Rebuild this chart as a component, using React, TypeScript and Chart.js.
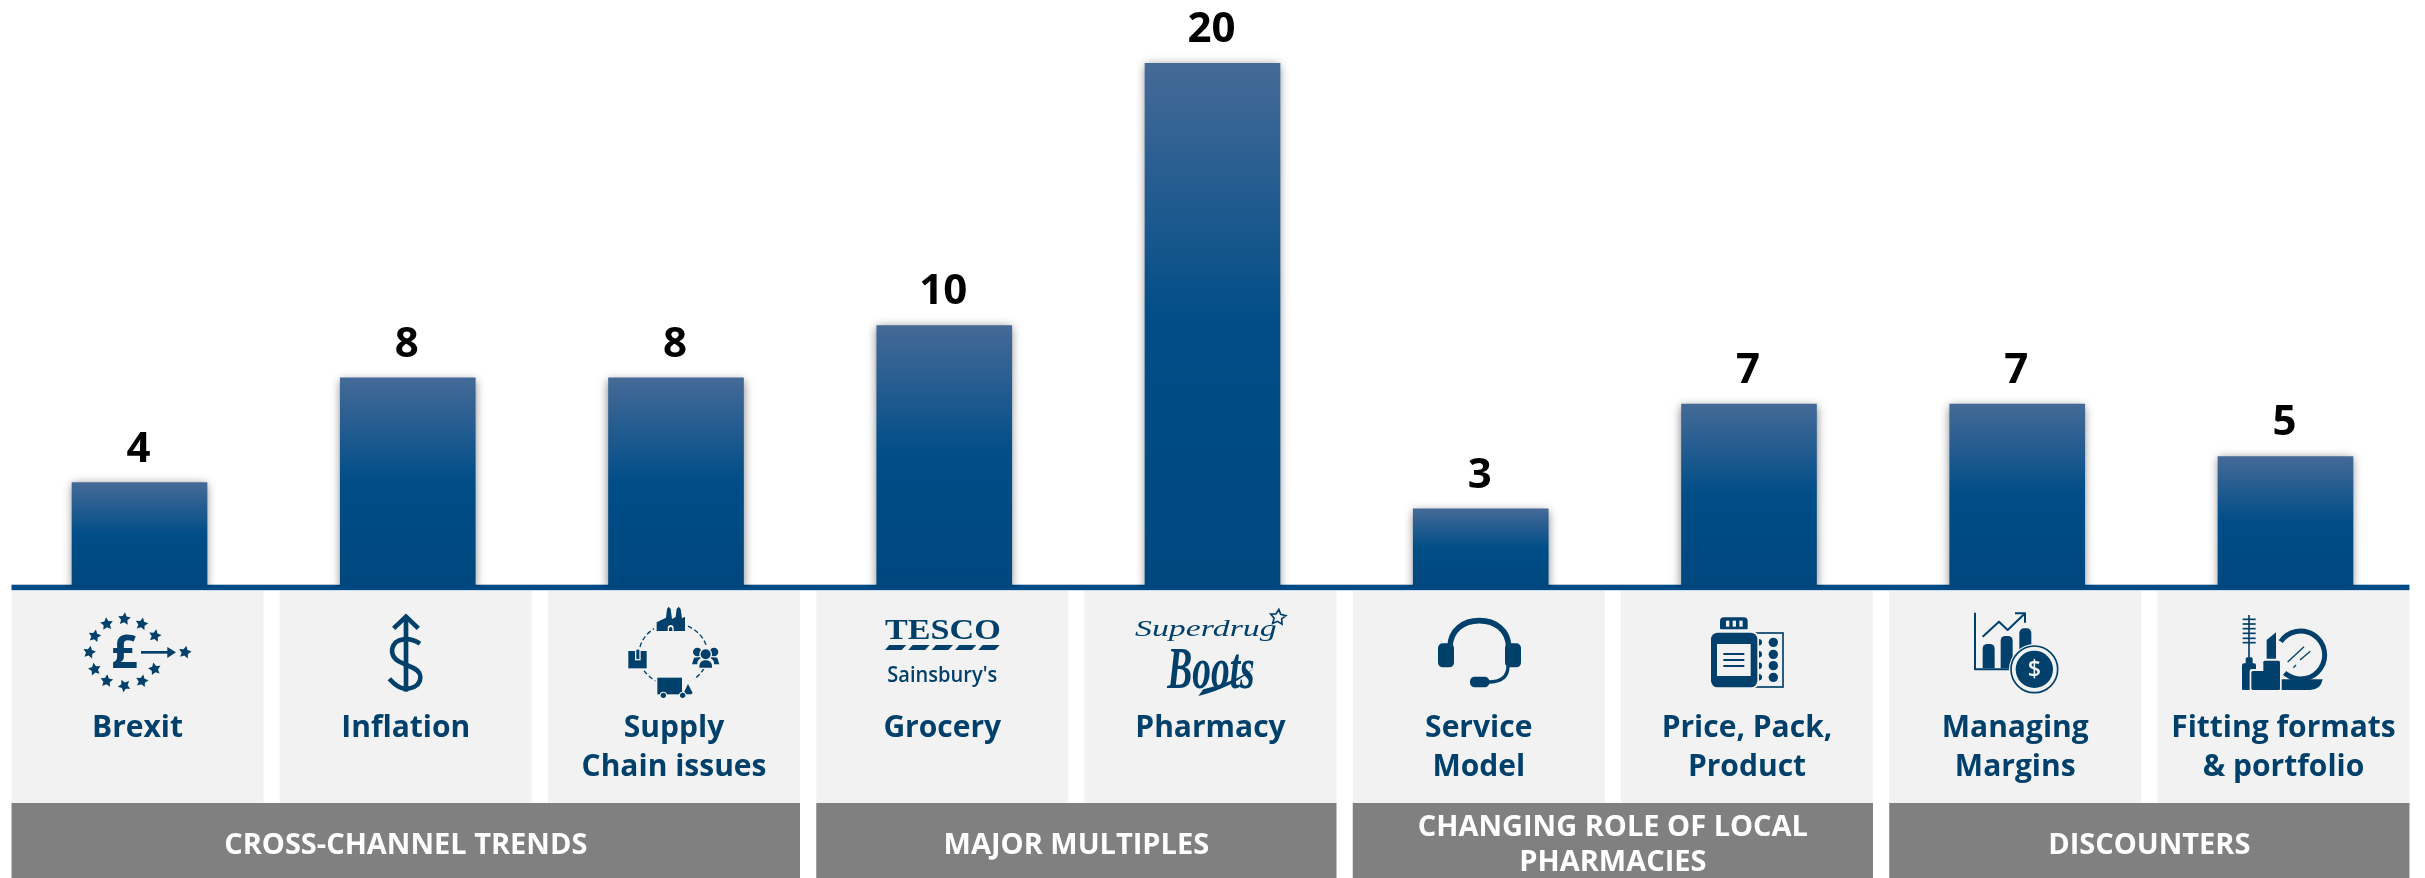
import React, { useEffect, useRef } from "react";
import { Chart, registerables } from "chart.js";

Chart.register(...registerables);

// Chart values
const driverLabels: string[][] = [
  ["Brexit"],
  ["Inflation"],
  ["Supply", "Chain issues"],
  ["Grocery"],
  ["Pharmacy"],
  ["Service", "Model"],
  ["Price, Pack,", "Product"],
  ["Managing", "Margins"],
  ["Fitting formats", "& portfolio"],
];
const driverCounts: number[] = [4, 8, 8, 10, 20, 3, 7, 7, 5];

// Groups: heading lines, first driver index, last driver index
const groupHeadings: string[][] = [
  ["CROSS-CHANNEL TRENDS"],
  ["MAJOR MULTIPLES"],
  ["CHANGING ROLE OF LOCAL", "PHARMACIES"],
  ["DISCOUNTERS"],
];
const groupFirst: number[] = [0, 3, 5, 7];
const groupLast: number[] = [2, 4, 6, 8];

const W = 2425;
const H = 878;
const NAVY = "#00406b";
const BAR = "#004b87";
const TILE = "#f2f2f2";
const SANS = '"Open Sans", "Noto Sans", sans-serif';

type C = CanvasRenderingContext2D;

function star(c: C, x: number, y: number, r: number, rot = 0) {
  c.beginPath();
  for (let i = 0; i < 10; i++) {
    const a = -Math.PI / 2 + rot + (i * Math.PI) / 5;
    const rr = i % 2 ? r * 0.5 : r;
    const px = x + rr * Math.cos(a);
    const py = y + rr * Math.sin(a);
    if (i) c.lineTo(px, py);
    else c.moveTo(px, py);
  }
  c.closePath();
}

function rr(c: C, x0: number, y0: number, x1: number, y1: number, r: number | number[]) {
  c.beginPath();
  c.roundRect(x0, y0, x1 - x0, y1 - y0, r);
  c.fill();
}

function seg(c: C, pts: number[]) {
  c.beginPath();
  c.moveTo(pts[0], pts[1]);
  for (let i = 2; i < pts.length; i += 2) c.lineTo(pts[i], pts[i + 1]);
  c.stroke();
}

function poly(c: C, pts: number[]) {
  c.beginPath();
  c.moveTo(pts[0], pts[1]);
  for (let i = 2; i < pts.length; i += 2) c.lineTo(pts[i], pts[i + 1]);
  c.closePath();
  c.fill();
}

function disc(c: C, x: number, y: number, r: number) {
  c.beginPath();
  c.arc(x, y, r, 0, Math.PI * 2);
  c.fill();
}

// Text squeezed or stretched to an exact width, left anchored
function fitText(c: C, s: string, x: number, y: number, width: number, font: string) {
  c.save();
  c.font = font;
  c.textAlign = "left";
  c.textBaseline = "alphabetic";
  const m = c.measureText(s).width;
  c.translate(x, y);
  c.scale(width / m, 1);
  c.fillText(s, 0, 0);
  c.restore();
}

function brexitIcon(c: C) {
  const stars = [
    [163, 57, 0.1], [215, 72, 0.2], [255, 107, 0.2], [110, 72, -0.1], [74, 108, 0.2], [58, 157, 0.2],
    [74, 208, -0.2], [110, 243, 0.1], [163, 257, 3.3], [216, 243, 0.2], [254, 207, -0.2], [345, 157, 0.2],
  ];
  stars.forEach(([x, y, r]) => {
    star(c, x, y, 20, r);
    c.fill();
  });
  c.textAlign = "center";
  c.textBaseline = "alphabetic";
  c.font = `700 138px ${SANS}`;
  c.fillText("£", 163, 205);
  c.lineWidth = 8;
  seg(c, [213, 157, 296, 157]);
  poly(c, [292, 141, 318, 157, 292, 174]);
}

function inflationIcon(c: C) {
  c.lineWidth = 14;
  c.lineJoin = "miter";
  seg(c, [1008, 60, 1008, 275]);
  seg(c, [971, 85, 1008, 50, 1045, 85]);
  c.beginPath();
  c.moveTo(1050, 131);
  c.bezierCurveTo(1030, 118, 1012, 116, 1000, 118);
  c.bezierCurveTo(962, 122, 952, 168, 990, 186);
  c.lineTo(1030, 204);
  c.bezierCurveTo(1068, 222, 1052, 268, 1005, 266);
  c.bezierCurveTo(985, 264, 972, 252, 958, 236);
  c.stroke();
}

function supplyIcon(c: C) {
  c.lineWidth = 4;
  c.setLineDash([14, 8]);
  c.beginPath();
  c.ellipse(190, 178, 103, 93, 0, 0, Math.PI * 2);
  c.stroke();
  c.setLineDash([]);
  // factory
  c.fillStyle = TILE;
  c.fillRect(132, 30, 100, 84);
  c.fillStyle = NAVY;
  poly(c, [140, 108, 140, 82, 168, 68, 171, 42, 176, 35, 182, 42, 186, 72, 197, 66, 200, 42, 206, 35, 212, 42, 216, 70, 225, 65, 225, 108]);
  c.fillStyle = TILE;
  rr(c, 173, 90, 191, 108, [9, 9, 0, 0]);
  c.fillStyle = NAVY;
  rr(c, 177, 96, 187, 108, [5, 5, 0, 0]);
  // carton
  c.fillStyle = TILE;
  c.fillRect(50, 162, 66, 64);
  c.fillStyle = NAVY;
  c.fillRect(55, 168, 55, 52);
  c.fillStyle = TILE;
  c.fillRect(75, 164, 17, 32);
  c.fillStyle = NAVY;
  c.fillRect(79, 164, 9, 28);
  // people
  c.fillStyle = TILE;
  c.fillRect(240, 150, 96, 72);
  c.fillStyle = NAVY;
  disc(c, 262, 171, 13);
  disc(c, 312, 171, 13);
  poly(c, [246, 208, 252, 188, 272, 186, 272, 208]);
  poly(c, [328, 208, 322, 188, 302, 186, 302, 208]);
  c.fillStyle = TILE;
  disc(c, 287, 178, 19);
  rr(c, 262, 190, 312, 222, 14);
  c.fillStyle = NAVY;
  disc(c, 287, 178, 15);
  rr(c, 268, 196, 306, 218, [16, 16, 0, 0]);
  // lorry
  c.fillStyle = TILE;
  c.fillRect(136, 242, 116, 66);
  c.fillStyle = NAVY;
  c.fillRect(142, 248, 74, 50);
  poly(c, [219, 298, 234, 267, 248, 294, 244, 298]);
  c.fillStyle = TILE;
  disc(c, 160, 301, 11);
  disc(c, 218, 301, 11);
  c.fillStyle = NAVY;
  disc(c, 160, 301, 8);
  disc(c, 218, 301, 8);
}

function retailerLogosGrocery(c: C) {
  fitText(c, "TESCO", 45, 118, 347, `700 88px "Liberation Serif", serif`);
  [45, 115, 185, 255, 325].forEach((x) => poly(c, [x + 13, 135, x + 64, 135, x + 50, 150, x, 150]));
  fitText(c, "Sainsbury's", 52, 245, 330, `600 62px ${SANS}`);
}

function retailerLogosPharmacy(c: C) {
  fitText(c, "Superdrug", 795, 109, 425, `italic 400 70px "Liberation Serif", serif`);
  c.lineWidth = 5;
  star(c, 1224, 52, 24, 0.1);
  c.stroke();
  fitText(c, "Boots", 892, 264, 262, `italic 700 176px "Liberation Serif", serif`);
  c.beginPath();
  c.moveTo(985, 288);
  c.quadraticCurveTo(1085, 264, 1152, 205);
  c.quadraticCurveTo(1100, 244, 1000, 268);
  c.closePath();
  c.fill();
}

function headsetIcon(c: C) {
  c.lineWidth = 17;
  c.beginPath();
  c.moveTo(90, 140);
  c.bezierCurveTo(92, 90, 130, 62, 178, 62);
  c.bezierCurveTo(226, 62, 264, 90, 266, 140);
  c.stroke();
  rr(c, 54, 130, 102, 202, 14);
  rr(c, 255, 130, 303, 202, 14);
  c.lineWidth = 10;
  c.beginPath();
  c.moveTo(264, 198);
  c.bezierCurveTo(264, 232, 240, 246, 205, 246);
  c.stroke();
  rr(c, 150, 230, 208, 262, 14);
}

function pillsIcon(c: C) {
  c.lineWidth = 5;
  c.strokeRect(1005, 99, 84, 162);
  [127, 163, 197, 232].forEach((y) => {
    disc(c, 1060, y, 14);
    disc(c, 1016, y, 10);
  });
  c.fillStyle = TILE;
  rr(c, 868, 93, 1017, 267, 22);
  c.fillStyle = NAVY;
  rr(c, 873, 98, 1012, 262, 20);
  rr(c, 900, 52, 983, 88, [12, 12, 3, 3]);
  c.fillStyle = TILE;
  c.fillRect(891, 132, 101, 96);
  [918, 938, 958].forEach((x) => c.fillRect(x, 62, 10, 18));
  c.fillStyle = NAVY;
  c.lineWidth = 6;
  [162, 180, 198].forEach((y) => seg(c, [910, y, 973, y]));
}

function marginsIcon(c: C) {
  c.lineWidth = 6;
  c.lineJoin = "round";
  seg(c, [45, 38, 45, 208, 170, 208]);
  rr(c, 68, 132, 104, 205, [14, 14, 0, 0]);
  rr(c, 122, 108, 158, 205, [14, 14, 0, 0]);
  rr(c, 178, 85, 214, 205, [14, 14, 0, 0]);
  seg(c, [68, 110, 117, 65, 143, 90, 193, 42]);
  seg(c, [165, 40, 195, 40, 195, 68]);
  c.fillStyle = TILE;
  disc(c, 223, 208, 76);
  c.fillStyle = NAVY;
  c.lineWidth = 5;
  c.beginPath();
  c.arc(223, 208, 70, 0, Math.PI * 2);
  c.stroke();
  disc(c, 223, 208, 56);
  c.fillStyle = TILE;
  c.textAlign = "center";
  c.textBaseline = "middle";
  c.font = `600 70px ${SANS}`;
  c.fillText("$", 223, 210);
}

function cosmeticsIcon(c: C) {
  c.lineWidth = 5;
  seg(c, [867, 45, 867, 178]);
  [58, 72, 86, 100, 115, 128].forEach((y) => seg(c, [848, y, 887, y]));
  rr(c, 846, 190, 888, 270, [6, 6, 4, 4]);
  rr(c, 857, 172, 878, 195, [5, 5, 0, 0]);
  c.fillStyle = TILE;
  rr(c, 869, 207, 927, 275, 6);
  c.fillStyle = NAVY;
  rr(c, 874, 213, 922, 270, 5);
  rr(c, 910, 182, 960, 270, [5, 5, 4, 4]);
  poly(c, [920, 176, 920, 120, 948, 97, 948, 176]);
  c.lineWidth = 15;
  c.beginPath();
  c.arc(1022, 165, 72, -2.55, 2.3);
  c.stroke();
  c.lineWidth = 4;
  seg(c, [983, 186, 1032, 140]);
  seg(c, [1000, 203, 1008, 195]);
  seg(c, [1020, 180, 1051, 154]);
  c.beginPath();
  c.moveTo(965, 238);
  c.lineTo(1088, 238);
  c.quadraticCurveTo(1082, 270, 1050, 270);
  c.lineTo(965, 270);
  c.closePath();
  c.fill();
}

// Each painter works in third-of-a-pixel units from its own origin
const icons: [(c: C) => void, number, number][] = [
  [brexitIcon, 70, 600],
  [inflationIcon, 70, 600],
  [supplyIcon, 610, 595],
  [retailerLogosGrocery, 870, 600],
  [retailerLogosPharmacy, 870, 600],
  [headsetIcon, 1420, 600],
  [pillsIcon, 1420, 600],
  [marginsIcon, 1960, 600],
  [cosmeticsIcon, 1960, 600],
];

const tileBackdrop = {
  id: "tileBackdrop",
  beforeDraw(chart: Chart) {
    const c = chart.ctx;
    const x = chart.scales.x;
    const half = 126;
    const center = (i: number) => x.getPixelForValue(i) - 2;
    c.save();
    c.fillStyle = TILE;
    driverCounts.forEach((_, i) => c.fillRect(center(i) - half, 591, half * 2, 212));
    groupHeadings.forEach((lines, g) => {
      const left = center(groupFirst[g]) - half;
      const right = center(groupLast[g]) + half;
      c.fillStyle = "#808080";
      c.fillRect(left, 803, right - left, H - 803);
      c.fillStyle = "#ffffff";
      c.font = `700 29px ${SANS}`;
      c.textAlign = "center";
      c.textBaseline = "middle";
      const mid = 845.5;
      lines.forEach((t, k) => c.fillText(t, (left + right) / 2, mid + (k - (lines.length - 1) / 2) * 35));
    });
    icons.forEach(([paint, ox, oy]) => {
      c.save();
      c.translate(ox, oy);
      c.scale(1 / 3, 1 / 3);
      c.fillStyle = NAVY;
      c.strokeStyle = NAVY;
      paint(c);
      c.restore();
    });
    // baseline rule
    c.fillStyle = BAR;
    c.fillRect(center(0) - half, 584.7, center(8) + half - (center(0) - half), 5.5);
    c.restore();
  },
};

const barShadow = {
  id: "barShadow",
  beforeDatasetsDraw(chart: Chart) {
    const c = chart.ctx;
    c.save();
    c.shadowColor = "rgba(0,0,0,0.5)";
    c.shadowBlur = 9;
    c.shadowOffsetX = 0;
    c.shadowOffsetY = 2;
  },
  afterDatasetsDraw(chart: Chart) {
    chart.ctx.restore();
  },
};

const valueLabels = {
  id: "valueLabels",
  afterDraw(chart: Chart) {
    const c = chart.ctx;
    c.save();
    c.fillStyle = "#000000";
    c.font = `700 42px ${SANS}`;
    c.textAlign = "center";
    c.textBaseline = "alphabetic";
    chart.getDatasetMeta(0).data.forEach((el: any, i: number) => {
      c.fillText(String(driverCounts[i]), el.x - 1, el.y - 21);
    });
    c.restore();
  },
};

export default function App() {
  const ref = useRef<HTMLCanvasElement>(null);

  useEffect(() => {
    const canvas = ref.current;
    if (!canvas) return;
    const chart = new Chart(canvas, {
      type: "bar",
      data: {
        labels: driverLabels,
        datasets: [
          {
            data: driverCounts,
            barThickness: 135,
            backgroundColor: (ctx: any) => {
              const y = ctx.chart.scales?.y;
              if (!y || ctx.parsed == null) return BAR;
              const top = y.getPixelForValue(ctx.parsed.y);
              const base = y.getPixelForValue(0);
              if (!Number.isFinite(top) || !Number.isFinite(base)) return BAR;
              const g = ctx.chart.ctx.createLinearGradient(0, top, 0, base);
              g.addColorStop(0, "#456a97");
              g.addColorStop(0.5, "#004d87");
              g.addColorStop(1, "#00477e");
              return g;
            },
          },
        ],
      },
      options: {
        animation: false,
        responsive: false,
        layout: { padding: { left: 5.4, right: 5.4, top: 0, bottom: 0 } },
        plugins: { legend: { display: false }, tooltip: { enabled: false }, title: { display: false } },
        scales: {
          x: {
            grid: { display: false, drawTicks: false },
            border: { display: false },
            afterFit: (scale: any) => {
              scale.height = 290.5;
              scale.paddingLeft = 0;
              scale.paddingRight = 0;
            },
            ticks: {
              autoSkip: false,
              maxRotation: 0,
              minRotation: 0,
              padding: 121,
              labelOffset: -2,
              color: NAVY,
              font: { family: SANS, size: 30, weight: "700", lineHeight: 39 / 30 },
            },
          },
          y: { display: false, min: 0, max: 22.42 },
        },
      },
      plugins: [tileBackdrop, barShadow, valueLabels],
    });
    return () => chart.destroy();
  }, []);

  return (
    <canvas
      ref={ref}
      width={W}
      height={H}
      style={{ position: "fixed", left: 0, top: 0, width: W, height: H, display: "block" }}
    />
  );
}
